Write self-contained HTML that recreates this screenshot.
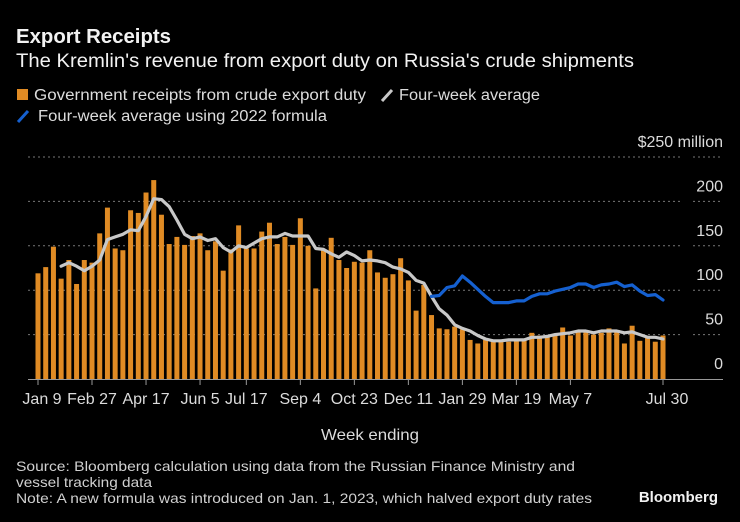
<!DOCTYPE html>
<html><head><meta charset="utf-8"><style>
html,body{margin:0;padding:0;background:#000;}
body{width:740px;height:522px;overflow:hidden;position:relative;font-family:"Liberation Sans",sans-serif;color:#e8e8e8;}
svg{position:absolute;left:0;top:0;}
</style></head><body>
<svg id="chart" width="740" height="522" viewBox="0 0 740 522" xmlns="http://www.w3.org/2000/svg">
<text x="16" y="43" font-size="20" font-weight="bold" fill="#f2f2f2" textLength="155" lengthAdjust="spacingAndGlyphs">Export Receipts</text>
<text x="16" y="67" font-size="19" fill="#f2f2f2" textLength="618" lengthAdjust="spacingAndGlyphs">The Kremlin's revenue from export duty on Russia's crude shipments</text>
<g>
<rect x="17" y="89" width="11" height="11" fill="#e08b24"/>
<text x="34" y="100" font-size="15.5" fill="#dcdcdc" textLength="332" lengthAdjust="spacingAndGlyphs">Government receipts from crude export duty</text>
<line x1="382" y1="101" x2="392" y2="90" stroke="#c8c8c8" stroke-width="3"/>
<text x="399" y="100" font-size="15.5" fill="#dcdcdc" textLength="141" lengthAdjust="spacingAndGlyphs">Four-week average</text>
<line x1="18" y1="122" x2="28" y2="111" stroke="#1560d0" stroke-width="3"/>
<text x="38" y="121" font-size="15.5" fill="#dcdcdc" textLength="289" lengthAdjust="spacingAndGlyphs">Four-week average using 2022 formula</text>
</g>
<g id="grid"></g><g id="bars"></g><g id="lines"></g><g id="axes"></g>
<text x="321" y="440" font-size="16" fill="#dcdcdc" textLength="98" lengthAdjust="spacingAndGlyphs">Week ending</text>
<text x="16" y="471" font-size="14" fill="#d0d0d0" textLength="559" lengthAdjust="spacingAndGlyphs">Source: Bloomberg calculation using data from the Russian Finance Ministry and</text>
<text x="16" y="487" font-size="14" fill="#d0d0d0" textLength="136" lengthAdjust="spacingAndGlyphs">vessel tracking data</text>
<text x="16" y="503" font-size="14" fill="#d0d0d0" textLength="576" lengthAdjust="spacingAndGlyphs">Note: A new formula was introduced on Jan. 1, 2023, which halved export duty rates</text>
<text x="718" y="502" font-size="15" font-weight="bold" fill="#f2f2f2" text-anchor="end">Bloomberg</text>
</svg>
<script>
const receipts=[119,126,149,113,134,107,134,131,164,193,147,145,190,187,210,224,185,152,160,151,161,164,145,155,122,146,173,147,147,166,176,152,160,151,181,150,102,146,159,134,125,132,131,145,120,114,118,136,111,77,106,72,57,56,59,56,44,40,44,42,42,42,44,44,52,49,48,50,58,49,54,53,50,52,57,54,40,60,43,47,42,49];
const avgStart=3;
const average=[127,131,127,122,127,134,157,160,163,168,167,183,203,202,194,179,163,158,160,156,158,148,143,150,148,153,158,160,160,164,161,161,161,147,146,141,137,143,139,133,134,133,131,126,124,120,111,108,93,79,72,61,57,54,49,45,43,43,44,44,44,47,47,48,50,51,52,54,54,52,54,54,54,52,53,50,47,47,45];
const formulaStart=51;
const formula2022=[93,94,103,105,116,109,101,93,86,86,86,88,88,93,96,96,99,101,103,107,107,103,106,107,109,104,106,99,94,95,89];
const yTicks=[0,50,100,150,200,250];
const yTickLabels=["0","50","100","150","200","$250 million"];
const xTickIdx=[0,7,14,21,27,34,41,48,55,62,69,81];
const xTickLabels=["Jan 9","Feb 27","Apr 17","Jun 5","Jul 17","Sep 4","Oct 23","Dec 11","Jan 29","Mar 19","May 7","Jul 30"];

const NS="http://www.w3.org/2000/svg";
const x0=38,x1=663,y0=379,pxPer=0.888;
const n=receipts.length;
function xs(i){return x0+i*(x1-x0)/(n-1);}
function ys(v){return y0-v*pxPer;}
function mk(tag,attrs,parent){const e=document.createElementNS(NS,tag);for(const k in attrs)e.setAttribute(k,attrs[k]);parent.appendChild(e);return e;}
const grid=document.getElementById('grid'),bars=document.getElementById('bars'),lines=document.getElementById('lines'),axes=document.getElementById('axes');
yTicks.forEach((t,k)=>{
  if(t>0){
    const g1=mk('line',{x1:28,x2:683,y1:ys(t),y2:ys(t),stroke:'#777','stroke-width':1,'stroke-dasharray':'2,3'},grid);
    
    
    const g2=mk('line',{x1:693,x2:723,y1:ys(t),y2:ys(t),stroke:'#777','stroke-width':1,'stroke-dasharray':'2,3'},grid);
    
    
  }
  const tx=mk('text',{x:723,y:ys(t)-10,'font-size':16,fill:'#dcdcdc','text-anchor':'end'},axes);
  tx.textContent=yTickLabels[k];
  
  
});
const bw=5;
receipts.forEach((v,i)=>{
  const r=mk('rect',{x:xs(i)-bw/2,y:ys(v),width:bw,height:v*pxPer,fill:'#e08b24'},bars);
  
  
});
function path(arr,start,color,name){
  const d=arr.map((v,i)=>(i?'L':'M')+xs(start+i).toFixed(1)+','+ys(v).toFixed(1)).join('');
  const p=mk('path',{d:d,fill:'none',stroke:color,'stroke-width':3.2,'stroke-linejoin':'round','stroke-linecap':'round'},lines);
  
  
}
path(average,avgStart,'#c8c8c8','line-four-week-average');
path(formula2022,formulaStart,'#1560d0','line-2022-formula-average');
const ax=mk('line',{x1:28,x2:723,y1:y0+0.5,y2:y0+0.5,stroke:'#999','stroke-width':1},axes);


xTickIdx.forEach((idx,k)=>{
  const t=mk('line',{x1:xs(idx),x2:xs(idx),y1:y0,y2:y0+6,stroke:'#999','stroke-width':1},axes);
  
  
  const tx=mk('text',{x:xs(idx)+(k===0?4:(k===xTickIdx.length-1?4:0)),y:y0+25,'font-size':16,fill:'#dcdcdc','text-anchor':'middle'},axes);
  tx.textContent=xTickLabels[k];
  
  
});
</script>
</body></html>
